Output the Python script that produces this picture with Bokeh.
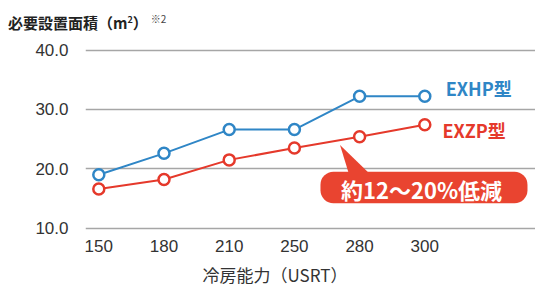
from bokeh.plotting import figure
from bokeh.models import Range1d, FixedTicker, Label, Title, Div
from bokeh.layouts import column
from bokeh.core.properties import value
from bokeh.embed import file_html
from bokeh.resources import INLINE

# ---- data ----
capacity = ["150", "180", "210", "250", "280", "300"]
exhp = [19.0, 22.6, 26.6, 26.6, 32.2, 32.2]
exzp = [16.6, 18.2, 21.5, 23.5, 25.4, 27.4]
y_ticks = [10, 20, 30, 40]
title_main = "必要設置面積（m"
title_sup = "2"
title_close = "）"
title_note = "※2"
x_title = "冷房能力（USRT）"
callout_text = "約12〜20%低減"
name_exhp = "EXHP型"
name_exzp = "EXZP型"

BLUE = "#2f86c6"
RED = "#e5392b"
CALLOUT = "#e94430"
JP = "Noto Sans CJK JP"
NUM = "Liberation Sans"

xs = list(range(len(capacity)))

# title line (HTML, so that the superscripts can be shown)
div = Div(
    text=(f'<div style="font-family:\'{JP}\';font-weight:bold;font-size:15px;'
          f'line-height:16px;color:#222222;padding:11px 0 0 8px;white-space:nowrap;">'
          f'{title_main}<sup style="font-size:9px;">{title_sup}</sup>{title_close}'
          f'<sup style="font-size:10px;font-weight:normal;color:#444444;margin-left:3px;">'
          f'{title_note}</sup></div>'),
    width=535, height=30, margin=0)

p = figure(width=535, height=261, output_backend="svg", toolbar_location=None,
           x_range=Range1d(-0.204, 6.698), y_range=Range1d(9.61, 41.6),
           min_border_left=85, min_border_right=0, min_border_top=10,
           min_border_bottom=60, margin=0)
p.outline_line_color = None
p.background_fill_color = "white"
p.border_fill_color = "white"

# axes
p.xaxis.ticker = FixedTicker(ticks=xs)
p.xaxis.major_label_overrides = {i: c for i, c in zip(xs, capacity)}
p.yaxis.ticker = FixedTicker(ticks=y_ticks)
p.yaxis.major_label_overrides = {t: f"{t:.1f}" for t in y_ticks}
for ax in (p.xaxis, p.yaxis):
    ax.axis_line_color = None
    ax.major_tick_line_color = None
    ax.minor_tick_line_color = None
    ax.major_tick_out = 0
    ax.major_tick_in = 0
    ax.minor_tick_out = 0
    ax.minor_tick_in = 0
    ax.major_label_text_font = NUM
    ax.major_label_text_font_size = "17px"
    ax.major_label_text_color = "#333333"
p.yaxis.major_label_standoff = 17
p.xaxis.major_label_standoff = 9

p.add_layout(Title(text=x_title, align="left", offset=117, text_font=JP,
                   text_font_size="17px", text_font_style="normal",
                   text_color="#333333"), "below")

p.xgrid.grid_line_color = None
p.ygrid.ticker = FixedTicker(ticks=y_ticks)
p.ygrid.grid_line_color = "#a6a6a6"
p.ygrid.grid_line_width = 1.5

# callout bubble
p.patch([3.70, 3.84, 4.17], [24.0, 19.0, 19.0], fill_color=CALLOUT, line_color=None)
p.quad(left=[3.40], right=[6.575], top=[19.5], bottom=[14.2], fill_color=CALLOUT,
       line_color=None, border_radius=13)
p.text(x=[4.95], y=[16.6], text=[callout_text], text_font=value(JP),
       text_font_size="22px", text_font_style="bold", text_color="white",
       text_align="center", text_baseline="middle")

# series
p.line(xs, exzp, line_color=RED, line_width=2)
p.scatter(xs, exzp, size=11, fill_color="white", line_color=RED, line_width=2.5)
p.line(xs, exhp, line_color=BLUE, line_width=2)
p.scatter(xs, exhp, size=11, fill_color="white", line_color=BLUE, line_width=2.5)

# series names
p.add_layout(Label(x=5.32, y=33.6, text=name_exhp, text_font=JP, text_font_size="18px",
                   text_font_style="bold", text_color=BLUE, text_baseline="middle"))
p.add_layout(Label(x=5.27, y=26.6, text=name_exzp, text_font=JP, text_font_size="18px",
                   text_font_style="bold", text_color=RED, text_baseline="middle"))

layout = column(div, p, spacing=0)
open("out.html", "w").write(file_html(layout, INLINE))
